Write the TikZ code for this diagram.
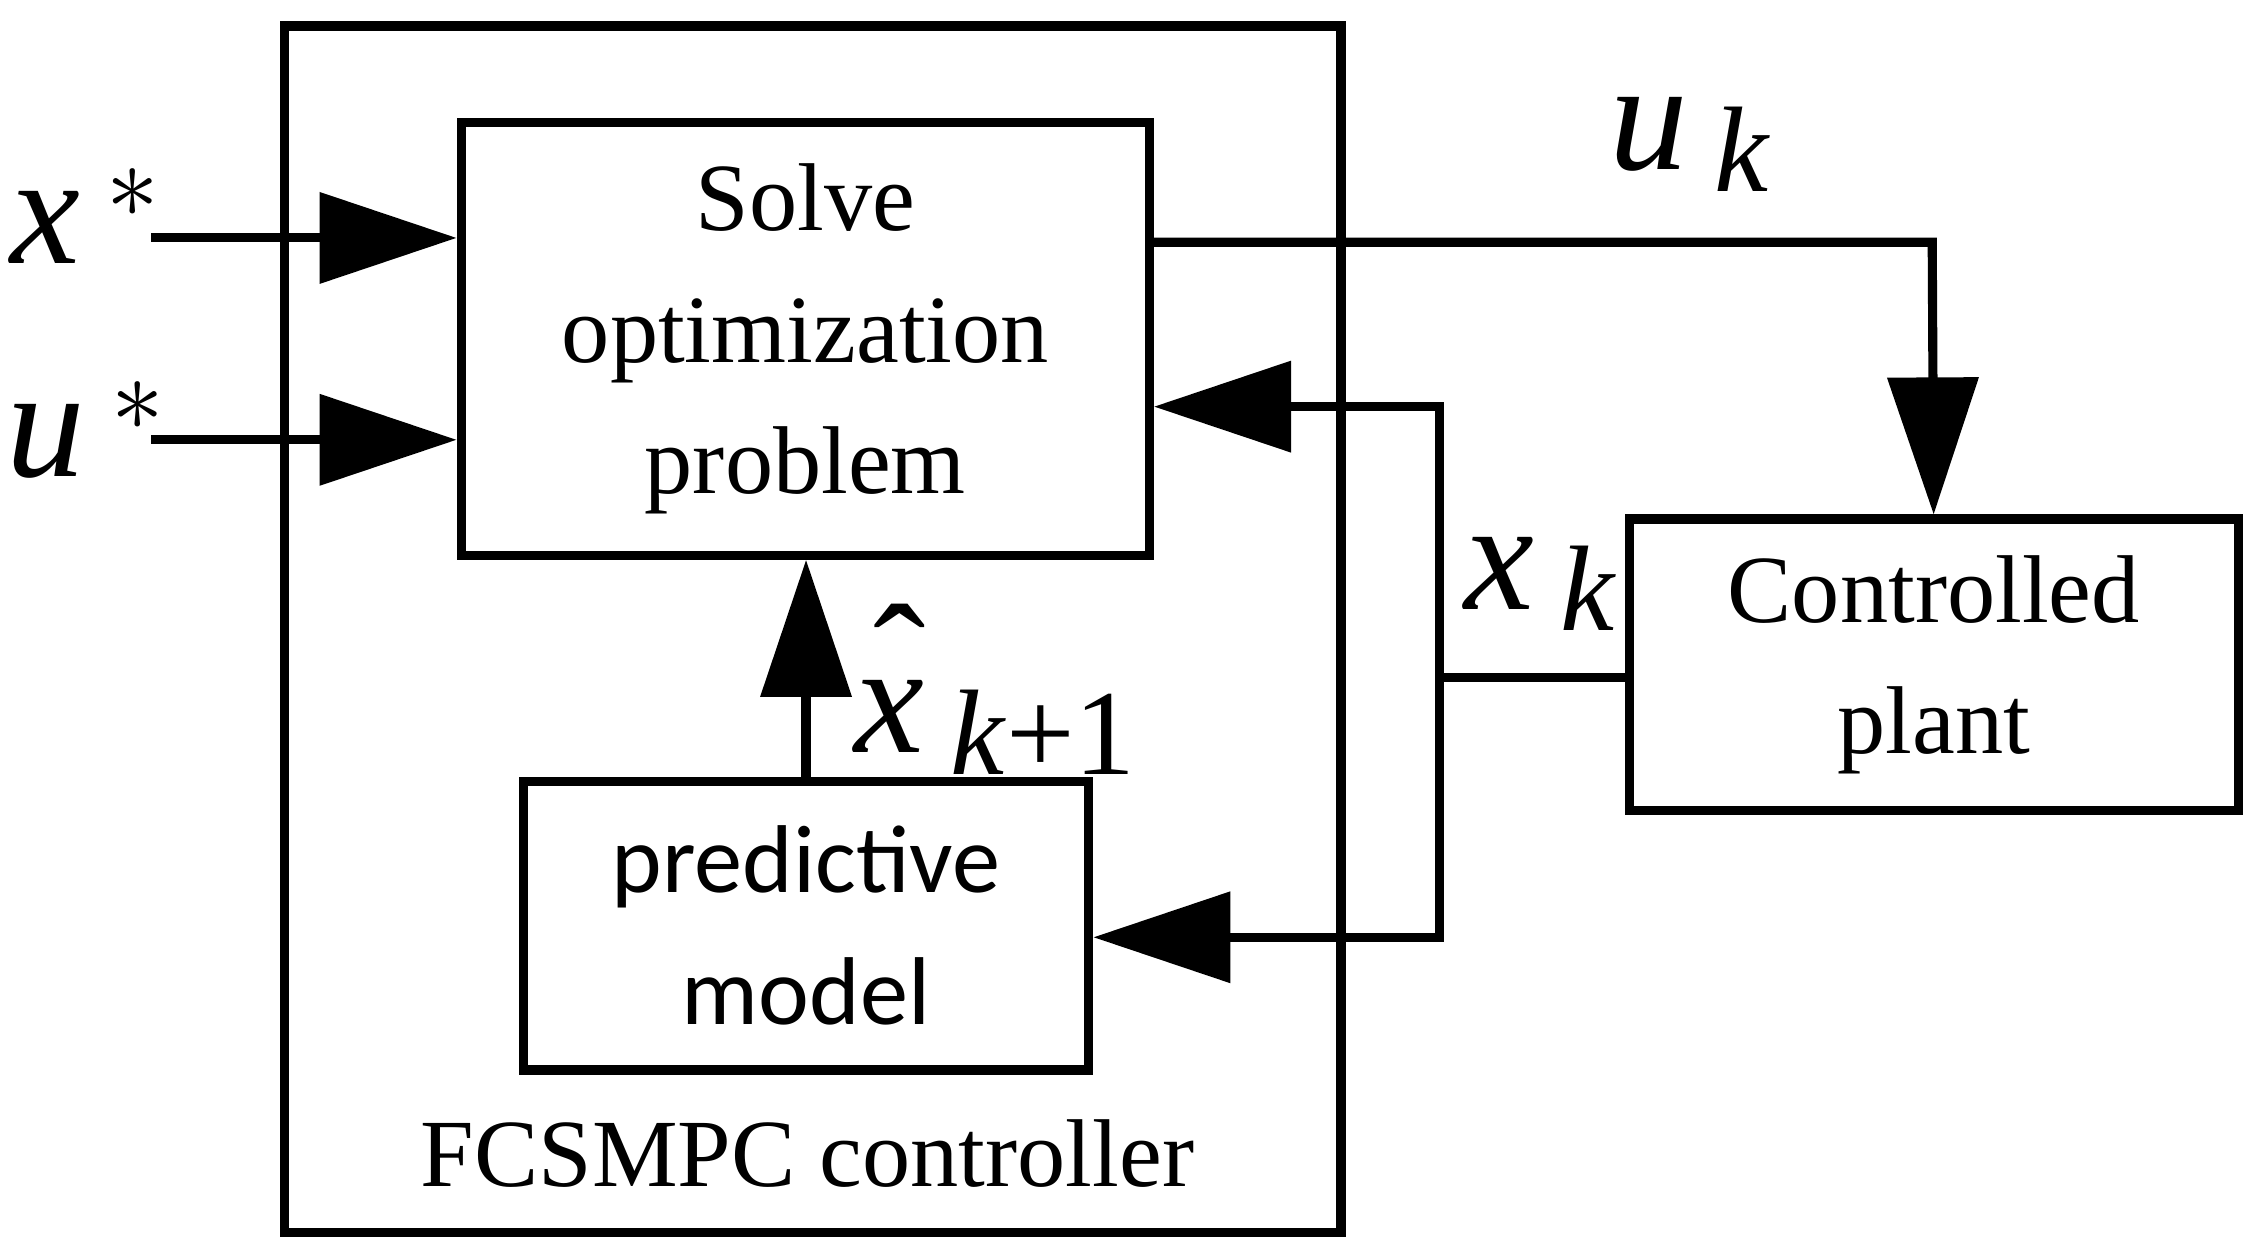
\documentclass[tikz,border=0pt]{standalone}
\usepackage{fontspec}
\setmainfont{Liberation Serif}
\newfontfamily\sansf{Carlito}
\usetikzlibrary{arrows.meta}
\newcommand{\ivar}[1]{\textit{#1}}
\newcommand{\isub}[1]{\raisebox{-0.3ex}{\fontsize{24}{24}\selectfont\ivar{#1}}}
\begin{document}
\begin{tikzpicture}[x=0.01cm,y=-0.01cm,
  box/.style={draw,line width=1.8pt,inner sep=0pt},
  ln/.style={line width=1.8pt},
  arr/.style={ln,-{Triangle[length=0.95cm,width=0.62cm]}},
  txt/.style={font=\fontsize{19}{26}\selectfont,align=center},
  lab/.style={font=\fontsize{31}{31}\selectfont,inner sep=0pt}]
\useasboundingbox (0,0) rectangle (1568,869);
\draw[ln] (197,18) rectangle (930,855);
\node[box,minimum width=4.77cm,minimum height=3.0cm] (solve) at (558.5,235) {};
\node[txt] at (558.5,235) {Solve\\optimization\\problem};
\node[box,minimum width=3.92cm,minimum height=2.0cm] (pred) at (559,642) {};
\node[txt,font=\sansf\fontsize{19}{26}\selectfont] at (559,642) {predictive\\model};
\node[box,minimum width=4.22cm,minimum height=2.02cm] (plant) at (1341,461) {};
\node[txt] at (1341,461) {Controlled\\plant};
\node[txt] (fcs) at (560,800) {FCSMPC controller};
\coordinate (xs) at (105,165);
\coordinate (us) at (105,305);
\draw[arr] (xs) -- (solve.west |- xs);
\draw[arr] (us) -- (solve.west |- us);
\node[lab] at (60,150) {\ivar{x}\,$^{*}$};
\node[lab] at (60,298) {\ivar{u}\,$^{*}$};
\coordinate (uc) at (1340,168);
\draw[arr] (solve.east |- uc) -- (uc) -- (plant.north);
\node[lab] at (1172,100) {\ivar{u}\,\isub{k}};
\coordinate (j) at (998,470);
\coordinate (jt) at (998,282);
\coordinate (jb) at (998,650);
\draw[ln] (plant.west |- j) -- (j);
\draw[arr] (jb) -- (jt) -- (solve.east |- jt);
\draw[arr] (jt) -- (jb) -- (pred.east |- jb);
\node[lab] at (1068,405) {\ivar{x}\,\isub{k}};
\draw[arr] (pred.north) -- (solve.south -| pred.north);
\node[lab] at (690,478) {\makebox[0pt][l]{\hspace{0.12em}\raisebox{0.55ex}{ˆ}}\ivar{x}\,\isub{k}\raisebox{-0.3ex}{\fontsize{24}{24}\selectfont+1}};
\end{tikzpicture}
\end{document}
